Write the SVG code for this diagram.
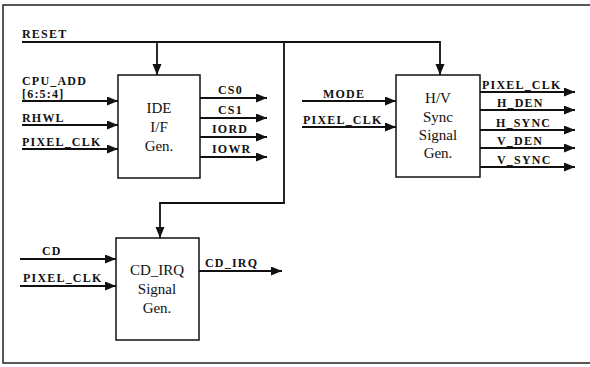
<svg xmlns="http://www.w3.org/2000/svg" width="590" height="367" viewBox="0 0 590 367">
<style>
.frame{fill:none;stroke:#222;stroke-width:1.5}
.box{fill:#fff;stroke:#111;stroke-width:1.5}
.w{fill:none;stroke:#111;stroke-width:1.8}
.lbl{font-family:"Liberation Serif",serif;font-size:12px;font-weight:bold;letter-spacing:1.2px;fill:#111}
.bt{font-family:"Liberation Serif",serif;font-size:15px;fill:#111;text-anchor:middle}
</style>
<defs>
<marker id="ah" markerUnits="userSpaceOnUse" markerWidth="12" markerHeight="10" refX="11" refY="4.5" orient="auto">
<path d="M0,0 L11,4.5 L0,9 z" fill="#111"/>
</marker>
</defs>
<path class="frame" d="M590,5 L3,5 L3,363 L590,363"/>
<g id="connectors">
<path class="w" d="M22,42 L440,42 L440,75" marker-end="url(#ah)"/>
<path class="w" d="M157,42 L157,75" marker-end="url(#ah)"/>
<path class="w" d="M284,42 L284,203 L160,203 L160,238" marker-end="url(#ah)"/>
<path class="w" d="M22,101 L118,101" marker-end="url(#ah)"/>
<path class="w" d="M22,125 L118,125" marker-end="url(#ah)"/>
<path class="w" d="M22,149 L118,149" marker-end="url(#ah)"/>
<path class="w" d="M200,98 L267,98" marker-end="url(#ah)"/>
<path class="w" d="M200,118 L267,118" marker-end="url(#ah)"/>
<path class="w" d="M200,137 L267,137" marker-end="url(#ah)"/>
<path class="w" d="M200,157 L267,157" marker-end="url(#ah)"/>
<path class="w" d="M302,101 L396,101" marker-end="url(#ah)"/>
<path class="w" d="M302,127 L396,127" marker-end="url(#ah)"/>
<path class="w" d="M480,92 L575,92" marker-end="url(#ah)"/>
<path class="w" d="M480,110 L575,110" marker-end="url(#ah)"/>
<path class="w" d="M480,130 L575,130" marker-end="url(#ah)"/>
<path class="w" d="M480,148 L575,148" marker-end="url(#ah)"/>
<path class="w" d="M480,167 L575,167" marker-end="url(#ah)"/>
<path class="w" d="M20,259 L116,259" marker-end="url(#ah)"/>
<path class="w" d="M20,286 L116,286" marker-end="url(#ah)"/>
<path class="w" d="M199,271 L282,271" marker-end="url(#ah)"/>
<text class="lbl" x="22" y="38">RESET</text>
<text class="lbl" x="22" y="85">CPU_ADD</text>
<text class="lbl" x="22" y="98">[6:5:4]</text>
<text class="lbl" x="22" y="122">RHWL</text>
<text class="lbl" x="22" y="146">PIXEL_CLK</text>
<text class="lbl" x="218" y="94">CS0</text>
<text class="lbl" x="218" y="114">CS1</text>
<text class="lbl" x="212" y="133">IORD</text>
<text class="lbl" x="212" y="153">IOWR</text>
<text class="lbl" x="323" y="98">MODE</text>
<text class="lbl" x="303" y="124">PIXEL_CLK</text>
<text class="lbl" x="482" y="89">PIXEL_CLK</text>
<text class="lbl" x="497" y="107">H_DEN</text>
<text class="lbl" x="496" y="127">H_SYNC</text>
<text class="lbl" x="497" y="145">V_DEN</text>
<text class="lbl" x="497" y="164">V_SYNC</text>
<text class="lbl" x="42" y="255">CD</text>
<text class="lbl" x="23" y="282">PIXEL_CLK</text>
<text class="lbl" x="205" y="267">CD_IRQ</text>
</g>
<g id="ide">
<rect class="box" x="118" y="75" width="82" height="103"/>
<text class="bt" x="159" y="113">IDE</text>
<text class="bt" x="159" y="132">I/F</text>
<text class="bt" x="159" y="151">Gen.</text>
</g>
<g id="hv">
<rect class="box" x="396" y="75" width="84" height="102"/>
<text class="bt" x="438" y="103">H/V</text>
<text class="bt" x="438" y="122">Sync</text>
<text class="bt" x="438" y="140">Signal</text>
<text class="bt" x="438" y="158">Gen.</text>
</g>
<g id="cdirq">
<rect class="box" x="116" y="238" width="83" height="102"/>
<text class="bt" x="157" y="275">CD_IRQ</text>
<text class="bt" x="157" y="294">Signal</text>
<text class="bt" x="157" y="313">Gen.</text>
</g>
</svg>
